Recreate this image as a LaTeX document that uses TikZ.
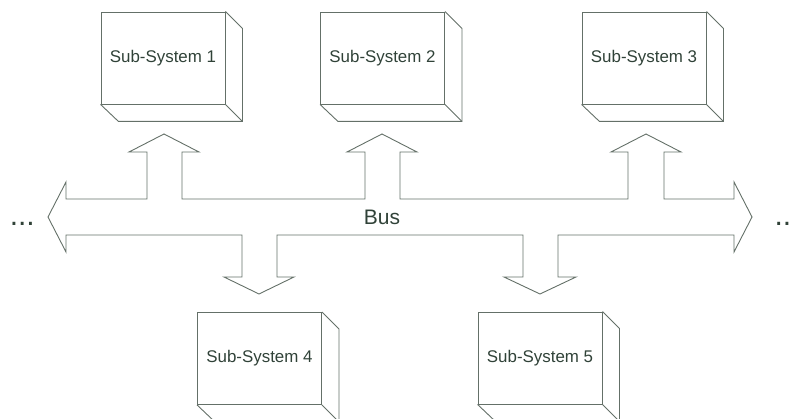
\documentclass[tikz,border=0pt]{standalone}
\usepackage{fontspec}
\setmainfont{Liberation Sans}
\usetikzlibrary{calc}
\definecolor{linec}{RGB}{100,112,104}
\definecolor{textc}{RGB}{48,66,56}
\tikzset{
  subsys/.style={draw=linec, line width=0.9pt, minimum width=124pt, minimum height=92pt,
    inner sep=0pt, text=textc, font=\fontsize{16.9}{20}\selectfont},
  buspath/.style={draw=linec, line width=0.9pt, line join=miter},
  side/.style={draw=linec, line width=0.9pt},
  dots/.style={text=textc, font=\fontsize{30}{32}\selectfont, inner sep=0pt, anchor=base}
}
\begin{document}
\begin{tikzpicture}[x=1pt, y=-1pt]
  \useasboundingbox (0,0) rectangle (790,419);

  % sub-system boxes (front faces)
  \node[subsys] (s1) at (163,58)    {Sub-System 1};
  \node[subsys] (s2) at (382.5,58)  {Sub-System 2};
  \node[subsys] (s3) at (644,58)    {Sub-System 3};
  \node[subsys] (s4) at (259.5,358.5) {Sub-System 4};
  \node[subsys] (s5) at (540,358)   {Sub-System 5};

  % depth of each box: side and bottom faces
  \foreach \n in {s1,s2,s3,s4,s5} {
    \draw[side] (\n.north east) -- ++(17,17) -- ($(\n.south east)+(17,17)$) -- ++(-124,0) -- (\n.south west);
    \draw[side] (\n.south east) -- ++(17,17);
  }

  % bus: double-headed arrow with branches to each sub-system
  \draw[buspath]
    (48,217) -- (66,182) -- (66,199)
    -- (147,199) -- (147,152) -- (129,152) -- (164,134) -- (199,152) -- (182,152) -- (182,199)
    -- (365,199) -- (365,152) -- (347,152) -- (382,134) -- (417,152) -- (400,152) -- (400,199)
    -- (628,199) -- (628,152) -- (611,152) -- (646,134) -- (681,152) -- (664,152) -- (664,199)
    -- (734,199) -- (734,182) -- (752,217) -- (734,252) -- (734,235)
    -- (558,235) -- (558,277) -- (576,277) -- (540,294) -- (504,277) -- (523,277) -- (523,235)
    -- (277,235) -- (277,277) -- (294,277) -- (259,294) -- (224,277) -- (242,277) -- (242,235)
    -- (66,235) -- (66,252) -- cycle;

  \node[text=textc, font=\fontsize{21}{24}\selectfont] (bus) at (382,217) {Bus};

  \node[dots] (more-left)  at (22.3,226) {...};
  \node[dots] (more-right) at (787,226)  {...};
\end{tikzpicture}
\end{document}
